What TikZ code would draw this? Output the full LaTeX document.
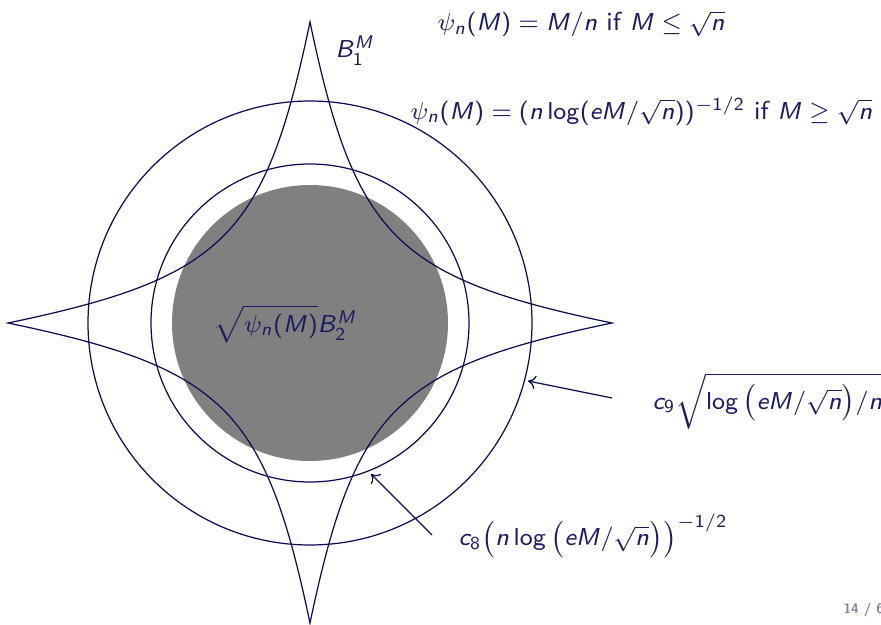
\documentclass[tikz,border=0pt]{standalone}
\usetikzlibrary{arrows.meta,calc}
\DeclareSymbolFont{sfit}{OT1}{cmss}{m}{sl}
\SetSymbolFont{operators}{normal}{OT1}{cmss}{m}{n}
\DeclareMathSymbol{B}{\mathalpha}{sfit}{`B}
\DeclareMathSymbol{M}{\mathalpha}{sfit}{`M}
\DeclareMathSymbol{c}{\mathalpha}{sfit}{`c}
\DeclareMathSymbol{e}{\mathalpha}{sfit}{`e}
\DeclareMathSymbol{n}{\mathalpha}{sfit}{`n}
\definecolor{lineblue}{RGB}{12,12,84}
\definecolor{textblue}{RGB}{28,28,96}
\definecolor{pagegray}{RGB}{130,130,160}
\begin{document}
\begin{tikzpicture}[x=0.327pt,y=-0.327pt,
  lbl/.style={inner sep=0pt,text=textblue,font=\sffamily\fontsize{8.5}{10.2}\selectfont},
  curve/.style={draw=lineblue,line width=0.4pt},
  pointer/.style={draw=lineblue,line width=0.4pt,-{To[length=2.5pt,width=4.5pt]}}]
\useasboundingbox (0,0) rectangle (881,625);
\coordinate (C) at (310,323);
\coordinate (T) at (310,22);
\coordinate (R) at (612,323);
\coordinate (D) at (310,623);
\coordinate (L) at (8,323);
% gray disk
\fill[gray] (C) circle[radius=138];
% circles
\draw[curve] (C) circle[radius=159];
\draw[curve] (C) circle[radius=222];
% star
\draw[curve] (T) .. controls ($(C)+(45,-86)$) and ($(C)+(86,-45)$) .. (R)
  .. controls ($(C)+(86,45)$) and ($(C)+(45,86)$) .. (D)
  .. controls ($(C)+(-45,86)$) and ($(C)+(-86,45)$) .. (L)
  .. controls ($(C)+(-86,-45)$) and ($(C)+(-45,-86)$) .. (T) -- cycle;
% labels
\node[lbl,anchor=west] (psi1) at (437,24) {$\psi_n(M) = M/n$ if $M \le \sqrt{n}$};
\node[lbl,anchor=west] (psi2) at (410,111) {$\psi_n(M) = (n\log(eM/\sqrt{n}))^{-1/2}$ if $M \ge \sqrt{n}$};
\node[lbl,anchor=west] (b1) at (335,51) {$B_1^M$};
\node[lbl,anchor=west] (b2) at (213,324) {$\sqrt{\psi_n(M)}B_2^M$};
\node[lbl,anchor=west] (c9) at (652,401) {$c_9\sqrt{\log\left(eM/\sqrt{n}\right)\!/n}$};
\node[lbl,anchor=west] (c8) at (458,536) {$c_8\bigl(n\log\left(eM/\sqrt{n}\right)\bigr)^{-1/2}$};
\node[inner sep=0pt,anchor=west,text=pagegray,font=\sffamily\bfseries\fontsize{4.5}{5}\selectfont] (pg) at (843,610) {14 / 60};
% pointers
\coordinate (p9s) at (612,398);
\coordinate (p9e) at (528,381);
\coordinate (p8s) at (432,535);
\coordinate (p8e) at (371,474);
\draw[pointer] (p9s) -- (p9e);
\draw[pointer] (p8s) -- (p8e);
\end{tikzpicture}
\end{document}
